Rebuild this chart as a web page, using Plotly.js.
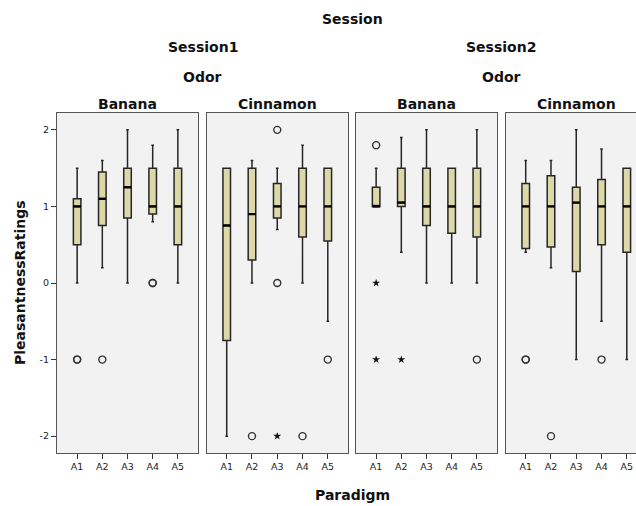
<!DOCTYPE html>
<html>
<head>
<meta charset="utf-8">
<script src="https://cdn.plot.ly/plotly-3.0.1.min.js"></script>
<style>
html,body{margin:0;padding:0;overflow:hidden;background:#fff;}
#chart{width:660px;height:506px;}
</style>
</head>
<body>
<div id="chart"></div>
<script>
// ---- Data ----
const paradigms = ['A1','A2','A3','A4','A5'];
const yTickVals = [-2,-1,0,1,2];
const yTickText = ['-2','-1','0','1','2'];
const panelNames = ['Banana','Cinnamon','Banana','Cinnamon'];
const sessionNames = ['Session1','Session2'];

// Session1 / Banana
const s1BananaLo  = [0, 0.2, 0, 0.8, 0];
const s1BananaQ1  = [0.5, 0.75, 0.85, 0.9, 0.5];
const s1BananaMed = [1.0, 1.1, 1.25, 1.0, 1.0];
const s1BananaQ3  = [1.1, 1.45, 1.5, 1.5, 1.5];
const s1BananaHi  = [1.5, 1.6, 2.0, 1.8, 2.0];
const s1BananaOutX = ['A1','A1','A2','A4','A4'];
const s1BananaOutY = [-1, -1, -1, 0, 0];
const s1BananaExtX = [];
const s1BananaExtY = [];

// Session1 / Cinnamon
const s1CinnamonLo  = [-2, 0, 0.7, 0, -0.5];
const s1CinnamonQ1  = [-0.75, 0.3, 0.85, 0.6, 0.55];
const s1CinnamonMed = [0.75, 0.9, 1.0, 1.0, 1.0];
const s1CinnamonQ3  = [1.5, 1.5, 1.3, 1.5, 1.5];
const s1CinnamonHi  = [1.5, 1.6, 1.5, 1.8, 1.5];
const s1CinnamonOutX = ['A2','A3','A3','A4','A5'];
const s1CinnamonOutY = [-2, 2, 0, -2, -1];
const s1CinnamonExtX = ['A3'];
const s1CinnamonExtY = [-2];

// Session2 / Banana
const s2BananaLo  = [1.0, 0.4, 0, 0, 0];
const s2BananaQ1  = [1.0, 1.0, 0.75, 0.65, 0.6];
const s2BananaMed = [1.0, 1.05, 1.0, 1.0, 1.0];
const s2BananaQ3  = [1.25, 1.5, 1.5, 1.5, 1.5];
const s2BananaHi  = [1.5, 1.9, 2.0, 1.5, 2.0];
const s2BananaOutX = ['A1','A5'];
const s2BananaOutY = [1.8, -1];
const s2BananaExtX = ['A1','A1','A2'];
const s2BananaExtY = [0, -1, -1];

// Session2 / Cinnamon
const s2CinnamonLo  = [0.4, 0.2, -1, -0.5, -1];
const s2CinnamonQ1  = [0.45, 0.47, 0.15, 0.5, 0.4];
const s2CinnamonMed = [1.0, 1.0, 1.05, 1.0, 1.0];
const s2CinnamonQ3  = [1.3, 1.4, 1.25, 1.35, 1.5];
const s2CinnamonHi  = [1.6, 1.6, 2.0, 1.75, 1.5];
const s2CinnamonOutX = ['A1','A1','A2','A4'];
const s2CinnamonOutY = [-1, -1, -2, -1];
const s2CinnamonExtX = [];
const s2CinnamonExtY = [];

// ---- Build ----
const panels = [
  {lo:s1BananaLo,q1:s1BananaQ1,med:s1BananaMed,q3:s1BananaQ3,hi:s1BananaHi,ox:s1BananaOutX,oy:s1BananaOutY,ex:s1BananaExtX,ey:s1BananaExtY},
  {lo:s1CinnamonLo,q1:s1CinnamonQ1,med:s1CinnamonMed,q3:s1CinnamonQ3,hi:s1CinnamonHi,ox:s1CinnamonOutX,oy:s1CinnamonOutY,ex:s1CinnamonExtX,ey:s1CinnamonExtY},
  {lo:s2BananaLo,q1:s2BananaQ1,med:s2BananaMed,q3:s2BananaQ3,hi:s2BananaHi,ox:s2BananaOutX,oy:s2BananaOutY,ex:s2BananaExtX,ey:s2BananaExtY},
  {lo:s2CinnamonLo,q1:s2CinnamonQ1,med:s2CinnamonMed,q3:s2CinnamonQ3,hi:s2CinnamonHi,ox:s2CinnamonOutX,oy:s2CinnamonOutY,ex:s2CinnamonExtX,ey:s2CinnamonExtY}
];

const W = 660, H = 506;
const ML = 57, MR = 13, MT = 113, MB = 53;
const PW = W - ML - MR;
const PH = H - MT - MB;
const panelPx = [[57,198],[206.5,348],[356,497],[505.5,647]];
const domains = panelPx.map(p => [(p[0]-ML)/PW, Math.min(1,(p[1]-ML)/PW)]);
const py = v => (H - MB - v) / PH;
const px = v => (v - ML) / PW;
const bold = (s) => ({family: 'DejaVu Sans', size: s, color: '#111', weight: 'bold'});

const idx = paradigms.map((_, i) => i);
const boxW = 0.3;
const traces = [];
const layout = {
  width: W, height: H,
  margin: {l: ML, r: MR, t: MT, b: MB, pad: 0},
  paper_bgcolor: '#ffffff',
  plot_bgcolor: '#f2f2f2',
  showlegend: false,
  font: {family: 'DejaVu Sans', size: 9.5, color: '#222'},
  annotations: []
};

panels.forEach((p, k) => {
  const xa = k === 0 ? 'x' : 'x' + (k+1);
  const ya = k === 0 ? 'y' : 'y' + (k+1);
  traces.push({
    type: 'box', xaxis: xa, yaxis: ya,
    x: idx, q1: p.q1, median: p.med, q3: p.q3,
    lowerfence: p.lo, upperfence: p.hi,
    width: boxW, whiskerwidth: 0.35,
    boxpoints: false,
    fillcolor: '#dcd8a7',
    line: {color: '#262626', width: 1.5},
    hoverinfo: 'skip'
  });
  const mx = [], my = [];
  p.med.forEach((m, i) => { mx.push(i - boxW/2, i + boxW/2, null); my.push(m, m, null); });
  traces.push({type:'scatter', mode:'lines', xaxis: xa, yaxis: ya, x: mx, y: my,
    line: {color:'#000', width: 2.4}, hoverinfo:'skip'});
  if (p.ox.length) traces.push({type:'scatter', mode:'markers', xaxis: xa, yaxis: ya,
    x: p.ox.map(c => paradigms.indexOf(c)), y: p.oy,
    marker: {symbol:'circle-open', size: 7, color:'#333', line:{width:1.4, color:'#333'}},
    hoverinfo:'skip'});
  if (p.ex.length) traces.push({type:'scatter', mode:'markers', xaxis: xa, yaxis: ya,
    x: p.ex.map(c => paradigms.indexOf(c)), y: p.ey,
    marker: {symbol:'star', size: 6, color:'#111', line:{width:0}},
    hoverinfo:'skip'});

  const xKey = k === 0 ? 'xaxis' : 'xaxis' + (k+1);
  const yKey = k === 0 ? 'yaxis' : 'yaxis' + (k+1);
  layout[xKey] = {
    domain: domains[k], anchor: ya, range: [-0.8, 4.8],
    tickvals: idx, ticktext: paradigms,
    ticks: 'outside', ticklen: 5, tickwidth: 1, tickcolor: '#333',
    showline: true, mirror: true, linecolor: '#555', linewidth: 1,
    showgrid: false, zeroline: false, fixedrange: true,
    tickfont: {size: 9.5, color: '#222'}
  };
  layout[yKey] = {
    domain: [0, 1], anchor: xa, range: [-2.22, 2.22],
    tickvals: yTickVals, ticktext: yTickText,
    ticks: k === 0 ? 'outside' : '', ticklen: 5, tickwidth: 1, tickcolor: '#333',
    showticklabels: k === 0,
    showline: true, mirror: true, linecolor: '#555', linewidth: 1,
    showgrid: false, zeroline: false, fixedrange: true,
    tickfont: {size: 9.5, color: '#222'}
  };
  if (k > 0) layout[yKey].matches = 'y';
  layout.annotations.push({xref: xa + ' domain', yref: 'paper', x: 0.5, y: py(104),
    text: panelNames[k], showarrow: false, xanchor: 'center', yanchor: 'middle',
    font: bold(14)});
});

const s1c = (panelPx[0][0] + panelPx[1][1]) / 2;
const s2c = (panelPx[2][0] + panelPx[3][1]) / 2;
const allc = (panelPx[0][0] + panelPx[3][1]) / 2;
layout.annotations.push(
  {xref:'paper', yref:'paper', x: px(allc), y: py(19), text:'Session', showarrow:false, xanchor:'center', yanchor:'middle', font: bold(14)},
  {xref:'paper', yref:'paper', x: px(s1c), y: py(47), text: sessionNames[0], showarrow:false, xanchor:'center', yanchor:'middle', font: bold(14)},
  {xref:'paper', yref:'paper', x: px(s2c), y: py(47), text: sessionNames[1], showarrow:false, xanchor:'center', yanchor:'middle', font: bold(14)},
  {xref:'paper', yref:'paper', x: px(s1c), y: py(77), text:'Odor', showarrow:false, xanchor:'center', yanchor:'middle', font: bold(14)},
  {xref:'paper', yref:'paper', x: px(s2c), y: py(77), text:'Odor', showarrow:false, xanchor:'center', yanchor:'middle', font: bold(14)},
  {xref:'paper', yref:'paper', x: px(allc), y: py(495), text:'Paradigm', showarrow:false, xanchor:'center', yanchor:'middle', font: bold(14)},
  {xref:'paper', yref:'paper', x: px(20), y: py(283), text:'PleasantnessRatings', textangle: -90, showarrow:false, xanchor:'center', yanchor:'middle', font: bold(14)}
);

Plotly.newPlot('chart', traces, layout, {staticPlot: true, displayModeBar: false});
</script>
</body>
</html>
